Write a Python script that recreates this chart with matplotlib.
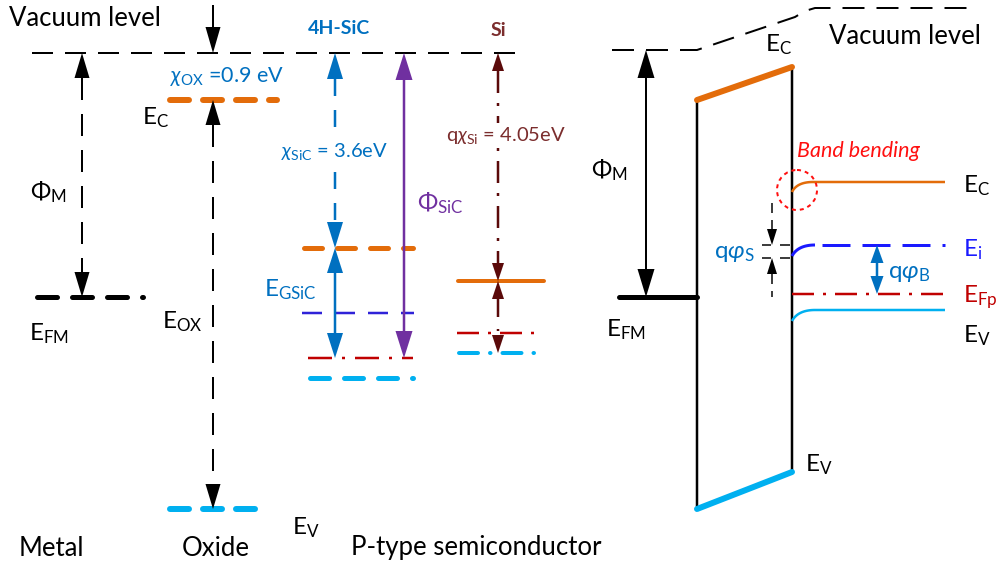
import numpy as np
import matplotlib.pyplot as plt
from matplotlib.patches import Polygon, Circle

plt.rcParams['font.family'] = ['Lato', 'DejaVu Sans']
plt.rcParams['mathtext.fontset'] = 'custom'
plt.rcParams['mathtext.rm'] = 'Lato'
plt.rcParams['mathtext.it'] = 'Lato:italic'
plt.rcParams['mathtext.bf'] = 'Lato:bold'
plt.rcParams['lines.scale_dashes'] = False

PX = 0.72  # points per pixel at 100 dpi
FS = 17.5  # size of the level labels

# colours
ORANGE = '#e36c0a'
CYAN = '#00b0f0'
BLUE = '#0070c0'
EI_BLUE = '#2f22d8'
RED = '#c00000'
PURPLE = '#7030a0'
SI_DARK = '#5b0a0a'
SI_TEXT = '#7b2d2d'

# ---- left diagram: energy levels (pixel y, top = 0) ----
vac_y = 53
metal_efm = 297
ox_levels = [100, 509]                  # Ec, Ev of the oxide
sic_levels = [248, 313, 358, 378]       # Ec, Ei, Ef, Ev of 4H-SiC
si_levels = [281, 333, 353]             # Ec, Ef, Ev of Si
col_x = [82, 213, 335, 404, 498]        # arrows: metal, oxide, SiC chi, SiC phi, Si chi

# ---- right diagram ----
vac_right = [(612, 50), (697, 50), (795, 17), (805, 11), (815, 8), (967, 8)]
ox_box_x = [697, 792]
ox_ec_right = [100, 67]
ox_ev_right = [509, 472]
semi_levels = [182, 245, 294, 310]      # Ec, Ei, EFp, Ev (flat part)
bend = [10, 11, 0, 11]                  # band bending at the surface
efm_right = 297


def seg(ax, xs, ys, color, lw, dash=None, cap='butt', z=2):
    ls = '-' if dash is None else (0, tuple(d * PX for d in dash))
    ax.plot(xs, ys, color=color, lw=lw * PX, linestyle=ls,
            solid_capstyle=cap, dash_capstyle=cap, zorder=z)


def head(ax, x, y, up, color, w, l):
    s = 1 if up else -1
    ax.add_patch(Polygon([(x, y), (x - w / 2, y + s * l), (x + w / 2, y + s * l)],
                         closed=True, fc=color, ec='none', zorder=4))


def varrow(ax, x, y0, y1, color, lw, dash=None, top=True, bottom=True, w=15, l=25):
    a = y0 + (l if top else 0)
    b = y1 - (l if bottom else 0)
    seg(ax, [x, x], [a, b], color, lw, dash)
    if top:
        head(ax, x, y0, True, color, w, l)
    if bottom:
        head(ax, x, y1, False, color, w, l)


def label(ax, x, y, s, color='black', size=FS, **kw):
    ax.text(x, y, s, color=color, fontsize=size, ha='left', va='center', zorder=5, **kw)


def bezier(p0, p1, p2, n=30):
    t = np.linspace(0, 1, n)[:, None]
    pts = (1 - t) ** 2 * np.array(p0) + 2 * (1 - t) * t * np.array(p1) + t ** 2 * np.array(p2)
    return pts[:, 0], pts[:, 1]


fig = plt.figure(figsize=(10.03, 5.68), dpi=100)
ax = fig.add_axes([0, 0, 1, 1])
ax.set_xlim(0, 1003)
ax.set_ylim(568, 0)
ax.axis('off')

# ================= left: separated materials =================
seg(ax, [32, 523], [vac_y, vac_y], 'black', 2, dash=(21, 12))
label(ax, 9, 19, 'Vacuum level', size=18.5)

# metal
seg(ax, [37, 143], [metal_efm, metal_efm], 'black', 5, dash=(20, 15), cap='round')
varrow(ax, col_x[0], vac_y, metal_efm, 'black', 2, dash=(22, 14))
label(ax, 30, 192, r'$\Phi_\mathrm{M}$')
label(ax, 29, 334, r'E$_\mathrm{FM}$')

# oxide
seg(ax, [170, 277], [ox_levels[0]] * 2, ORANGE, 6, dash=(19, 14), cap='round')
seg(ax, [170, 265], [ox_levels[1]] * 2, CYAN, 6, dash=(19, 14), cap='round')
seg(ax, [col_x[1], col_x[1]], [5, 27], 'black', 2)
head(ax, col_x[1], vac_y, False, 'black', 15, 26)
varrow(ax, col_x[1], ox_levels[0], ox_levels[1], 'black', 2, dash=(22, 14))
label(ax, 142, 118, r'E$_\mathrm{C}$')
label(ax, 162, 322, r'E$_\mathrm{OX}$')
label(ax, 292, 528, r'E$_\mathrm{V}$')
label(ax, 170, 76, r'$\chi_\mathrm{OX}$ =0.9 eV', color=BLUE, size=15.5)

# 4H-SiC
seg(ax, [304, 413], [sic_levels[0]] * 2, ORANGE, 5, dash=(18, 15), cap='round')
seg(ax, [302, 414], [sic_levels[1]] * 2, EI_BLUE, 2.5, dash=(20, 13))
seg(ax, [308, 413], [sic_levels[2]] * 2, RED, 2.5, dash=(24, 10, 3, 10))
seg(ax, [310, 413], [sic_levels[3]] * 2, CYAN, 5, dash=(19, 15), cap='round')
varrow(ax, col_x[2], vac_y, sic_levels[0], BLUE, 2.5, dash=(17, 14), w=16, l=26)
varrow(ax, col_x[2], sic_levels[0], sic_levels[2], BLUE, 2.5, w=16, l=25)
varrow(ax, col_x[3], vac_y, sic_levels[2], PURPLE, 2.5, w=17, l=27)
ax.text(339, 29, '4H-SiC', color=BLUE, fontsize=14, fontweight='bold', ha='center', va='center')
ax.text(281, 152, r'$\chi_\mathrm{SiC}$ = 3.6eV', color=BLUE, fontsize=14.5, ha='left', va='center',
        zorder=5, bbox=dict(fc='white', ec='none', pad=1))
label(ax, 264, 290, r'E$_\mathrm{GSiC}$', color=BLUE)
label(ax, 417, 203, r'$\Phi_\mathrm{SiC}$', color=PURPLE)

# Si
seg(ax, [458, 544], [si_levels[0]] * 2, ORANGE, 4, cap='round')
seg(ax, [457, 540], [si_levels[1]] * 2, RED, 2.5, dash=(22, 9, 3, 9))
seg(ax, [459, 540], [si_levels[2]] * 2, CYAN, 4, dash=(19, 12, 0.5, 12), cap='round')
varrow(ax, col_x[4], vac_y, si_levels[0], SI_DARK, 2.5, dash=(22, 10, 3, 10), w=12, l=18)
varrow(ax, col_x[4], si_levels[0], si_levels[2], SI_DARK, 2.5, dash=(18, 12, 2, 12), w=12, l=18)
ax.text(498, 31, 'Si', color=SI_TEXT, fontsize=14, fontweight='bold', ha='center', va='center')
ax.text(446, 135, r'q$\chi_\mathrm{Si}$ = 4.05eV', color=SI_TEXT, fontsize=14.5, ha='left', va='center',
        zorder=5, bbox=dict(fc='white', ec='none', pad=1))

label(ax, 19, 548, 'Metal', size=18.5)
label(ax, 182, 548, 'Oxide', size=18.5)
label(ax, 351, 548, 'P-type semiconductor', size=18.5)

# ================= right: MOS band diagram =================
vx, vy = zip(*vac_right)
seg(ax, vx, vy, 'black', 2, dash=(22, 12))
label(ax, 829, 36, 'Vacuum level', size=18.5)

# metal
seg(ax, [619, ox_box_x[0]], [efm_right] * 2, 'black', 5, cap='round')
varrow(ax, 646, vac_right[0][1], efm_right, 'black', 2, w=17, l=28)
label(ax, 591, 170, r'$\Phi_\mathrm{M}$')
label(ax, 606, 330, r'E$_\mathrm{FM}$')

# oxide box
seg(ax, [ox_box_x[0]] * 2, [ox_ec_right[0], ox_ev_right[0]], 'black', 2.5)
seg(ax, [ox_box_x[1]] * 2, [ox_ec_right[1], ox_ev_right[1]], 'black', 2.5)
seg(ax, ox_box_x, ox_ec_right, ORANGE, 6, cap='round', z=3)
seg(ax, ox_box_x, ox_ev_right, CYAN, 6, cap='round', z=3)
label(ax, 765, 45, r'E$_\mathrm{C}$')
label(ax, 805, 465, r'E$_\mathrm{V}$')

# semiconductor bands with bending
sx = ox_box_x[1]
bx, by = bezier((sx, semi_levels[0] + bend[0]), (sx + 5, semi_levels[0]), (sx + 21, semi_levels[0]))
seg(ax, list(bx) + [945], list(by) + [semi_levels[0]], ORANGE, 2.5)
bx, by = bezier((sx, semi_levels[1] + bend[1]), (sx + 6, semi_levels[1]), (sx + 23, semi_levels[1]))
seg(ax, bx, by, '#1a1aff', 3)
seg(ax, [822, 945], [semi_levels[1]] * 2, '#1a1aff', 3, dash=(28, 12))
seg(ax, [sx, 945], [semi_levels[2]] * 2, RED, 2.5, dash=(22, 9, 3, 9))
bx, by = bezier((sx, semi_levels[3] + bend[3]), (sx + 6, semi_levels[3]), (sx + 23, semi_levels[3]))
seg(ax, list(bx) + [945], list(by) + [semi_levels[3]], CYAN, 2.5)

ax.add_patch(Circle((797, 190), 20, fill=False, ec='#ff1010', lw=2 * PX,
                    linestyle=(0, (4 * PX, 4 * PX)), zorder=5))
ax.text(797, 151, 'Band bending', color='#ff1010', fontsize=15.5, style='italic',
        ha='left', va='center')

varrow(ax, 877, semi_levels[1], semi_levels[2], BLUE, 2.5, w=13, l=18)
label(ax, 888, 274, r'q$\varphi_\mathrm{B}$', color=BLUE)

# surface potential marker
ps_top, ps_bot = semi_levels[1], semi_levels[1] + 13
for yy in (ps_top, ps_bot):
    seg(ax, [762, 771], [yy, yy], 'black', 1.5)
    seg(ax, [780, 790], [yy, yy], 'black', 1.5)
varrow(ax, 772, 203, ps_top, 'black', 1.5, dash=(10, 7), top=False, w=10, l=16)
varrow(ax, 772, ps_bot, 297, 'black', 1.5, dash=(10, 7), bottom=False, w=10, l=16)
label(ax, 714, 254, r'q$\varphi_\mathrm{S}$', color=BLUE)

label(ax, 963, 186, r'E$_\mathrm{C}$')
label(ax, 963, 250, r'E$_\mathrm{i}$', color='#1a1aff')
label(ax, 963, 297, r'E$_\mathrm{Fp}$', color=RED)
label(ax, 963, 336, r'E$_\mathrm{V}$')

fig.savefig('out.png', dpi=100)
